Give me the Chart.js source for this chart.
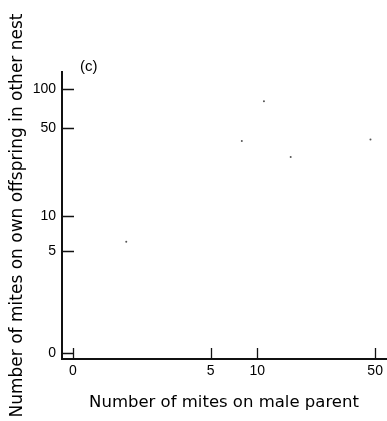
<!DOCTYPE html>
<html>
<head>
<meta charset="utf-8">
<script src="https://cdn.jsdelivr.net/npm/chart.js@4"></script>
<style>
html, body { margin: 0; padding: 0; background: #fff; }
#wrap { width: 387px; height: 421px; }
</style>
</head>
<body>
<div id="wrap"><canvas id="miteChart"></canvas></div>
<script>
// tick labels (axes are log(n + 1))
var xTickValues = [0, 5, 10, 50];
var yTickValues = [0, 5, 10, 50, 100];

// one point per nest: mites on male parent vs mites on own offspring
var maleMites = [1, 8, 11, 16, 47];
var offspringMites = [6, 40, 81, 30, 41];

var panelLabel = '(c)';

function lg(v) { return Math.log10(v + 1); }

var points = maleMites.map(function (m, i) {
    return { x: lg(m), y: lg(offspringMites[i]) };
});

var tickFont = { family: 'Liberation Sans, Arial, sans-serif', size: 14 };

// ticks point inward, so draw them ourselves
var innerTicks = {
    id: 'innerTicks',
    afterDatasetsDraw: function (chart) {
        var ctx = chart.ctx, a = chart.chartArea;
        var xs = chart.scales.x, ys = chart.scales.y;
        ctx.save();
        ctx.strokeStyle = '#111';
        ctx.lineWidth = 1.3;
        ctx.beginPath();
        xs.ticks.forEach(function (t) {
            var px = Math.round(xs.getPixelForValue(t.value)) + 0.5;
            ctx.moveTo(px, a.bottom);
            ctx.lineTo(px, a.bottom - 11);
        });
        ys.ticks.forEach(function (t) {
            var py = Math.round(ys.getPixelForValue(t.value)) + 0.5;
            ctx.moveTo(a.left, py);
            ctx.lineTo(a.left + 12, py);
        });
        ctx.stroke();
        ctx.fillStyle = '#000';
        ctx.font = '15px "Liberation Sans", Arial, sans-serif';
        ctx.textBaseline = 'middle';
        ctx.fillText(panelLabel, a.left + 18, 67);
        ctx.restore();
    }
};

var ctx = document.getElementById('miteChart').getContext('2d');
var chart = new Chart(ctx, {
    type: 'scatter',
    data: {
        datasets: [{
            data: points,
            pointRadius: 1,
            pointHoverRadius: 1,
            backgroundColor: '#555',
            borderWidth: 0
        }]
    },
    options: {
        responsive: true,
        maintainAspectRatio: false,
        animation: false,
        layout: { padding: { top: 72, right: 0, bottom: 0, left: 0 } },
        plugins: { legend: { display: false }, tooltip: { enabled: false } },
        scales: {
            x: {
                type: 'linear',
                min: -0.062,
                max: 1.769,
                afterFit: function (s) { s.height = 62; },
                afterBuildTicks: function (s) {
                    s.ticks = xTickValues.map(function (v) { return { value: lg(v) }; });
                },
                grid: { display: false, drawTicks: false },
                border: { display: true, color: '#111', width: 2 },
                ticks: {
                    padding: 4,
                    color: '#000',
                    font: tickFont,
                    maxRotation: 0,
                    callback: function (val, i) { return String(xTickValues[i]); }
                },
                title: {
                    display: true,
                    text: 'Number of mites on male parent',
                    color: '#000',
                    font: { family: 'DejaVu Sans, sans-serif', size: 16.5 },
                    padding: { top: 0, bottom: 8 }
                }
            },
            y: {
                type: 'linear',
                min: -0.046,
                max: 2.137,
                afterFit: function (s) { s.width = 62; },
                afterBuildTicks: function (s) {
                    s.ticks = yTickValues.map(function (v) { return { value: lg(v) }; });
                },
                grid: { display: false, drawTicks: false },
                border: { display: true, color: '#111', width: 2 },
                ticks: {
                    padding: 6,
                    color: '#000',
                    font: tickFont,
                    callback: function (val, i) { return String(yTickValues[i]); }
                },
                title: {
                    display: true,
                    text: 'Number of mites on own offspring in other nest',
                    color: '#000',
                    font: { family: 'DejaVu Sans, sans-serif', size: 17 },
                    padding: { top: 7, bottom: 0 }
                }
            }
        }
    },
    plugins: [innerTicks]
});
</script>
</body>
</html>
